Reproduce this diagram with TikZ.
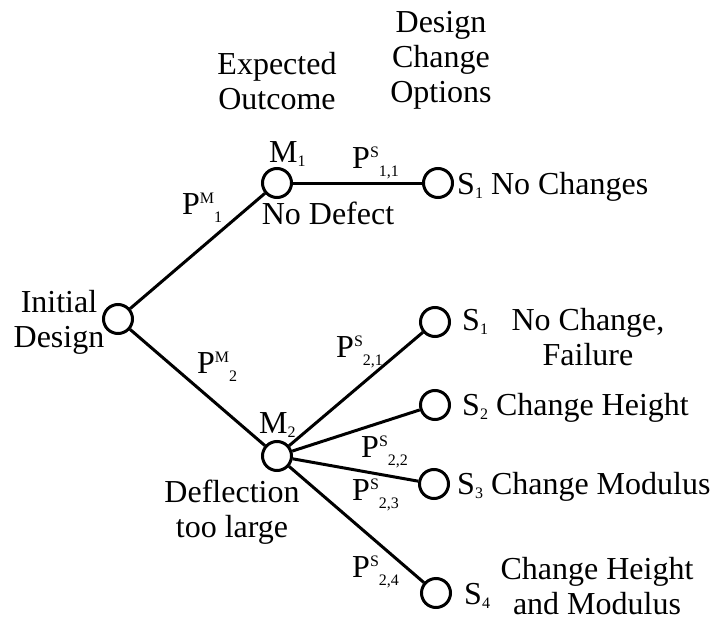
\documentclass[tikz,border=0pt]{standalone}
\usepackage{fontspec}
\setmainfont{Liberation Serif}
\newcommand{\prlab}[2]{P\raisebox{11pt}{\fontsize{16}{16}\selectfont #1}\raisebox{-8pt}{\fontsize{16}{16}\selectfont #2}}
\newcommand{\idx}[2]{#1\raisebox{-4pt}{\fontsize{16}{16}\selectfont #2}}
\tikzset{x=1pt, y=-1pt, every node/.append style={font=\fontsize{32}{35}\selectfont, inner sep=0pt},
    chance/.style={circle, draw, line width=3pt, minimum size=29pt},
    branch/.style={line width=3pt}}

\begin{document}
\begin{tikzpicture}
    \useasboundingbox (0,0) rectangle (712,623);
    % decision and outcome points
    \node[chance] (init) at (118,319) {};
    \node[chance] (m1) at (277,183) {};
    \node[chance] (m2) at (277,456) {};
    \node[chance] (s11) at (438,183) {};
    \node[chance] (s21) at (435,322) {};
    \node[chance] (s22) at (435,405) {};
    \node[chance] (s23) at (434,484) {};
    \node[chance] (s24) at (436,593) {};
    \draw[branch] (init) -- (m1);
    \draw[branch] (init) -- (m2);
    \draw[branch] (m1) -- (s11);
    \foreach \s in {s21,s22,s23,s24}
        \draw[branch] (m2) -- (\s);
    % column heads
    \node[align=center] (hout) at (277,81) {Expected\\Outcome};
    \node[align=center] (hopt) at (441,60) {Design\\Change\\Options};
    % texts at the points
    \node[align=center] (tinit) at (59,322) {Initial\\Design};
    \node[anchor=base west] (tm1) at (269,163) {\idx{M}{1}};
    \node[anchor=base] (tdef) at (328,224) {No Defect};
    \node[anchor=base west] (tm2) at (259,433) {\idx{M}{2}};
    \node[align=center] (tdefl) at (232,512) {Deflection\\too large};
    \node[anchor=base west] (ts11) at (457,194) {\idx{S}{1} No Changes};
    \node[anchor=base west] (ts21) at (462,330) {\idx{S}{1}};
    \node[align=center] (tfail) at (588,337) {No Change,\\Failure};
    \node[anchor=base west] (ts22) at (462,415) {\idx{S}{2} Change Height};
    \node[anchor=base west] (ts23) at (457,494) {\idx{S}{3} Change Modulus};
    \node[anchor=base west] (ts24) at (464,604) {\idx{S}{4}};
    \node[align=center] (tboth) at (597,586) {Change Height\\and Modulus};
    % branch probabilities
    \node[anchor=base west] (pm1) at (182,214) {\prlab{M}{1}};
    \node[anchor=base west] (pm2) at (197,373) {\prlab{M}{2}};
    \node[anchor=base west] (ps11) at (352,168) {\prlab{S}{1,1}};
    \node[anchor=base west] (ps21) at (336,357) {\prlab{S}{2,1}};
    \node[anchor=base west] (ps22) at (361,457) {\prlab{S}{2,2}};
    \node[anchor=base west] (ps23) at (352,500) {\prlab{S}{2,3}};
    \node[anchor=base west] (ps24) at (352,577) {\prlab{S}{2,4}};
\end{tikzpicture}
\end{document}
